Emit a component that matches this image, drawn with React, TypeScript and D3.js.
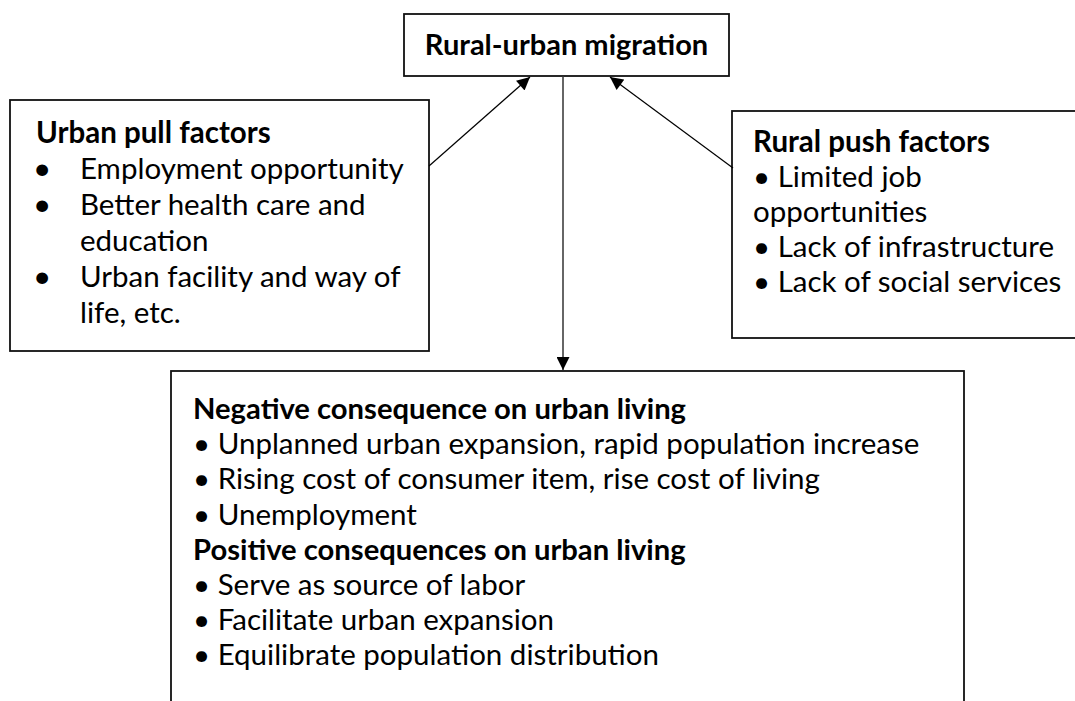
import React from 'react';
import * as d3 from 'd3';

// diagram texts
const centerTitle = 'Rural-urban migration';

const pullTitle = 'Urban pull factors';
const pullItems = [
    ['Employment opportunity'],
    ['Better health care and', 'education'],
    ['Urban facility and way of', 'life, etc.'],
];

const pushTitle = 'Rural push factors';
const pushItems = [
    ['Limited job', 'opportunities'],
    ['Lack of infrastructure'],
    ['Lack of social services'],
];

const negTitle = 'Negative consequence on urban living';
const negItems = [
    'Unplanned urban expansion, rapid population increase',
    'Rising cost of consumer item, rise cost of living',
    'Unemployment',
];
const posTitle = 'Positive consequences on urban living';
const posItems = [
    'Serve as source of labor',
    'Facilitate urban expansion',
    'Equilibrate population distribution',
];

const W = 1075;
const H = 701;
const FONT = 'Lato, "Open Sans", sans-serif';
const BODY = 29.5;
const BOLD = 29.5;

// flatten bulleted items into rows: first row of each item carries the bullet
const toRows = (items: string[][]) =>
    items.flatMap(lines => lines.map((text, i) => ({ text, bullet: i === 0 })));

const Box = ({ x, y, w, h }: { x: number; y: number; w: number; h: number }) => (
    <rect x={x} y={y} width={w} height={h} fill="#fff" stroke="#111" strokeWidth={1.8} />
);

const App = () => {
    const pullRows = [{ text: pullTitle, bold: true, bullet: false }, ...toRows(pullItems).map(r => ({ ...r, bold: false }))];
    const pushRows = [{ text: pushTitle, bold: true, bullet: false }, ...toRows(pushItems).map(r => ({ ...r, bold: false }))];
    const bottomRows = [
        { text: negTitle, bold: true, bullet: false },
        ...negItems.map(t => ({ text: t, bold: false, bullet: true })),
        { text: posTitle, bold: true, bullet: false },
        ...posItems.map(t => ({ text: t, bold: false, bullet: true })),
    ];

    // row index -> baseline
    const yPull = d3.scaleLinear().domain([0, 1]).range([143, 179]);
    const yPush = d3.scaleLinear().domain([0, 1]).range([152, 187]);
    const yBottom = d3.scaleLinear().domain([0, 1]).range([419, 454.2]);

    const arrow = d3.line();

    return (
        <svg width={W} height={H} style={{ position: 'absolute', left: 0, top: 0, background: '#fff' }}>
            <defs>
                <marker id="head" viewBox="0 0 12 12" refX={12} refY={6} markerWidth={14} markerHeight={13}
                    markerUnits="userSpaceOnUse" orient="auto">
                    <path d="M0,0 L12,6 L0,12 Z" fill="#000" />
                </marker>
            </defs>

            <Box x={404} y={14} w={325} h={62} />
            <Box x={10} y={100} w={419} h={251} />
            <Box x={732} y={111} w={360} h={227} />
            <Box x={171} y={371} w={793} h={360} />

            <path d={arrow([[429, 166], [530, 77]]) ?? ''} stroke="#000" strokeWidth={1.2} markerEnd="url(#head)" />
            <path d={arrow([[733, 168], [610, 77]]) ?? ''} stroke="#000" strokeWidth={1.2} markerEnd="url(#head)" />
            <path d={arrow([[563, 76], [563, 370]]) ?? ''} stroke="#333" strokeWidth={1.5} markerEnd="url(#head)" />

            <g fontFamily={FONT} fill="#000">
                <text x={566.5} y={55} textAnchor="middle" fontWeight="bold" fontSize={29}>{centerTitle}</text>

                {pullRows.map((r, i) => (
                    <g key={'pl' + i}>
                        {r.bold ? (
                            <text x={36} y={yPull(i)} fontWeight="bold" fontSize={BOLD}>{r.text}</text>
                        ) : (
                            <>
                                {r.bullet && <text x={33} y={yPull(i)} fontSize={BODY + 2}>•</text>}
                                <text x={80} y={yPull(i)} fontSize={BODY}>{r.text}</text>
                            </>
                        )}
                    </g>
                ))}

                {pushRows.map((r, i) => (
                    <text key={'ps' + i} x={753} y={yPush(i)} fontWeight={r.bold ? 'bold' : 'normal'}
                        fontSize={BODY}>
                        {r.bullet ? '• ' + r.text : r.text}
                    </text>
                ))}

                {bottomRows.map((r, i) => (
                    <text key={'bt' + i} x={193} y={yBottom(i)} fontWeight={r.bold ? 'bold' : 'normal'}
                        fontSize={r.bold ? 29.2 : BODY}>
                        {r.bullet ? '• ' + r.text : r.text}
                    </text>
                ))}
            </g>
        </svg>
    );
};

export default App;
